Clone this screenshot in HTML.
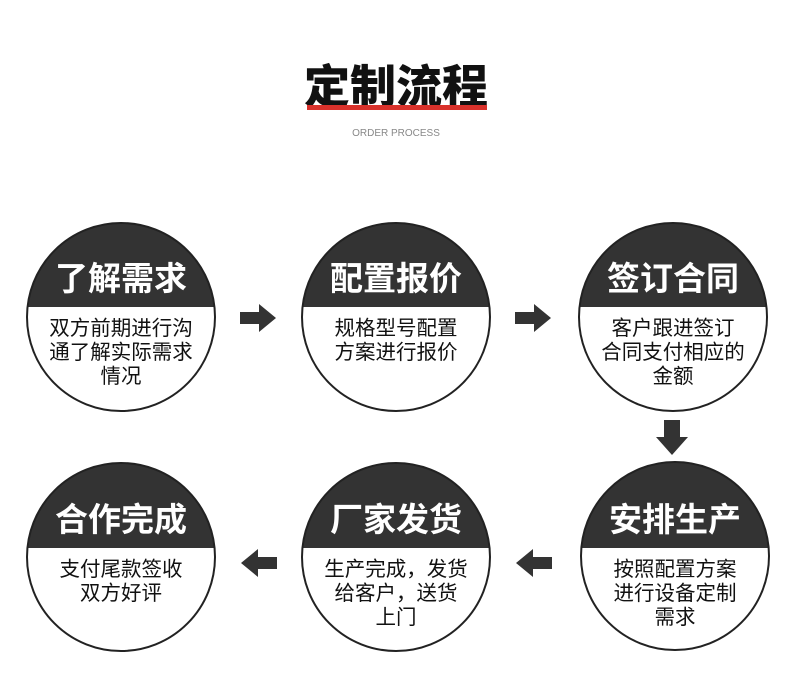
<!DOCTYPE html>
<html><head><meta charset="utf-8"><style>
html,body{margin:0;padding:0;background:#fff;}
svg{display:block;}
text{font-family:"Liberation Sans","Noto Sans CJK SC",sans-serif;}
.t{font-size:33px;font-weight:bold;fill:#fff;text-anchor:middle;}
.b{font-size:20.5px;fill:#111;text-anchor:middle;}
</style></head><body>
<svg width="790" height="678" viewBox="0 0 790 678" xmlns="http://www.w3.org/2000/svg">
<defs>
<clipPath id="c1"><circle cx="121" cy="317" r="94"/></clipPath>
<clipPath id="c2"><circle cx="396" cy="317" r="94"/></clipPath>
<clipPath id="c3"><circle cx="673" cy="317" r="94"/></clipPath>
<clipPath id="c4"><circle cx="121" cy="557" r="94"/></clipPath>
<clipPath id="c5"><circle cx="396" cy="557" r="94"/></clipPath>
<clipPath id="c6"><circle cx="675" cy="556" r="94"/></clipPath>
</defs>
<text x="396" y="103" style="font-size:46px;font-weight:900;fill:#111;text-anchor:middle">定制流程</text>
<rect x="307" y="105" width="180" height="5" fill="#d9312b"/>
<text x="396" y="136" style="font-size:10px;fill:#888;text-anchor:middle">ORDER PROCESS</text>

<g clip-path="url(#c1)"><rect x="0" y="200" width="790" height="107" fill="#333"/></g>
<circle cx="121" cy="317" r="94" fill="none" stroke="#222" stroke-width="2"/>
<text class="t" x="121" y="290">了解需求</text>
<text class="b" x="121" y="335">双方前期进行沟</text>
<text class="b" x="121" y="359">通了解实际需求</text>
<text class="b" x="121" y="383">情况</text>

<g clip-path="url(#c2)"><rect x="0" y="200" width="790" height="107" fill="#333"/></g>
<circle cx="396" cy="317" r="94" fill="none" stroke="#222" stroke-width="2"/>
<text class="t" x="396" y="290">配置报价</text>
<text class="b" x="396" y="335">规格型号配置</text>
<text class="b" x="396" y="359">方案进行报价</text>

<g clip-path="url(#c3)"><rect x="0" y="200" width="790" height="107" fill="#333"/></g>
<circle cx="673" cy="317" r="94" fill="none" stroke="#222" stroke-width="2"/>
<text class="t" x="673" y="290">签订合同</text>
<text class="b" x="673" y="335">客户跟进签订</text>
<text class="b" x="673" y="359">合同支付相应的</text>
<text class="b" x="673" y="383">金额</text>

<g clip-path="url(#c4)"><rect x="0" y="440" width="790" height="108" fill="#333"/></g>
<circle cx="121" cy="557" r="94" fill="none" stroke="#222" stroke-width="2"/>
<text class="t" x="121" y="531">合作完成</text>
<text class="b" x="121" y="576">支付尾款签收</text>
<text class="b" x="121" y="600">双方好评</text>

<g clip-path="url(#c5)"><rect x="0" y="440" width="790" height="108" fill="#333"/></g>
<circle cx="396" cy="557" r="94" fill="none" stroke="#222" stroke-width="2"/>
<text class="t" x="396" y="531">厂家发货</text>
<text class="b" x="396" y="576">生产完成，发货</text>
<text class="b" x="396" y="600">给客户，送货</text>
<text class="b" x="396" y="624">上门</text>

<g clip-path="url(#c6)"><rect x="0" y="440" width="790" height="108" fill="#333"/></g>
<circle cx="675" cy="556" r="94" fill="none" stroke="#222" stroke-width="2"/>
<text class="t" x="675" y="531">安排生产</text>
<text class="b" x="675" y="576">按照配置方案</text>
<text class="b" x="675" y="600">进行设备定制</text>
<text class="b" x="675" y="624">需求</text>

<g fill="#333">
<polygon points="240,312 259,312 259,304 276,318 259,332 259,324 240,324"/>
<polygon points="515,312 534,312 534,304 551,318 534,332 534,324 515,324"/>
<polygon points="664,420 680,420 680,437 688,437 672,455 656,437 664,437"/>
<polygon points="552,557 533,557 533,549 516,563 533,577 533,569 552,569"/>
<polygon points="277,557 258,557 258,549 241,563 258,577 258,569 277,569"/>
</g>
</svg>
</body></html>
